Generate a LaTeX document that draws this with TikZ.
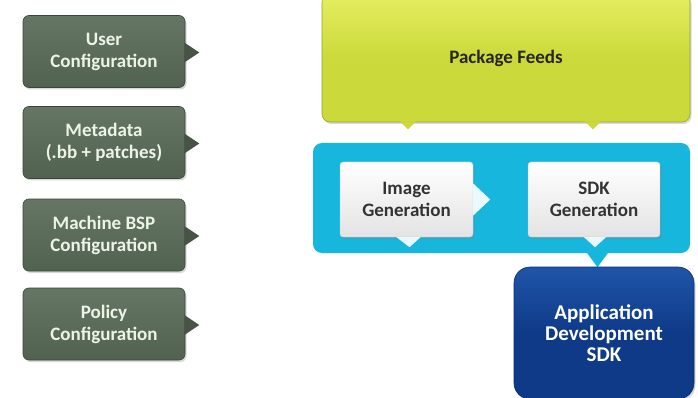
\documentclass[tikz,border=0pt]{standalone}
\usepackage{fontspec}
\setmainfont{Carlito}
\usetikzlibrary{calc,shadows}
\definecolor{boxgreen}{HTML}{526251}
\definecolor{boxgreenlt}{HTML}{667665}
\definecolor{feedyel}{HTML}{CCD93A}
\definecolor{feedyellt}{HTML}{E4EE62}
\definecolor{cyanbg}{HTML}{17B6DD}
\definecolor{sdkblue}{HTML}{0E3A88}
\definecolor{sdkbluelt}{HTML}{1F55A8}
\definecolor{wtxt}{HTML}{EEF3E8}
\tikzset{
  cfgbox/.style={rounded corners=6pt, minimum width=162pt, minimum height=72pt,
    top color=boxgreenlt, bottom color=boxgreen, draw=boxgreen!70!black, line width=0.6pt,
    text=wtxt, font=\fontsize{19}{22}\selectfont\bfseries, align=center, inner sep=1pt,
    drop shadow={shadow xshift=1.5pt, shadow yshift=-2pt, opacity=0.3}},
  genbox/.style={rounded corners=3pt, minimum width=133pt, minimum height=75pt,
    top color=white, bottom color=gray!22, draw=gray!45, line width=0.4pt,
    text=black!80, font=\fontsize{19}{22}\selectfont\bfseries, align=center, inner sep=1pt,
    drop shadow={shadow xshift=1.5pt, shadow yshift=-2pt, opacity=0.3}},
}
\begin{document}
\begin{tikzpicture}[x=1pt,y=-1pt]
\useasboundingbox[fill=white] (0,0) rectangle (698,398);

% Package feeds
\node[rounded corners=8pt, minimum width=368pt, minimum height=128pt,
  top color=feedyellt, bottom color=feedyel, middle color=feedyel, draw=feedyel!75!black, line width=0.6pt,
  font=\fontsize{19}{22}\selectfont\bfseries, text=black!85,
  drop shadow={shadow xshift=1.5pt, shadow yshift=-2pt, opacity=0.3}]
  (feeds) at (506,58) {Package Feeds};
\fill[feedyel] ($(feeds.south)+(-106,-1)$) -- ++(8,8) -- ++(8,-8) -- cycle;
\fill[feedyel] ($(feeds.south)+(79,-1)$) -- ++(8,8) -- ++(8,-8) -- cycle;

% cyan container
\node[rounded corners=9pt, minimum width=377pt, minimum height=110pt, fill=cyanbg]
  (gen) at (501.5,198) {};
\fill[cyanbg] ($(gen.south)+(85,-1)$) -- ++(11,15) -- ++(11,-15) -- cycle;

% generation boxes
\node[genbox] (img) at (406.5,199.5) {Image\\Generation};
\node[genbox, minimum width=132pt] (sdk) at (594,199.5) {SDK\\Generation};
\fill[white!92!cyanbg] ($(img.east)+(0,-16)$) -- ($(img.east)+(17,0)$) -- ($(img.east)+(0,16)$) -- cycle;
\fill[white!90!cyanbg] ($(img.south)+(-10,0)$) -- ($(img.south)+(3,10)$) -- ($(img.south)+(14,0)$) -- cycle;
\fill[white!90!cyanbg] ($(sdk.south)+(-10,0)$) -- ($(sdk.south)+(1,10)$) -- ($(sdk.south)+(12,0)$) -- cycle;

% application SDK
\node[rounded corners=16pt, minimum width=180pt, minimum height=132pt,
  top color=sdkbluelt, bottom color=sdkblue, middle color=sdkblue, draw=sdkblue!80!black, line width=0.6pt,
  text=white, font=\fontsize{21}{21}\selectfont\bfseries, align=center, inner sep=1pt,
  drop shadow={shadow xshift=1.5pt, shadow yshift=-2pt, opacity=0.3}]
  (app) at (604,333) {Application\\Development\\SDK};

% left configuration boxes
\node[cfgbox] (user) at (104,51.5) {User\\Configuration};
\node[cfgbox] (meta) at (104,142.5) {Metadata\\(.bb + patches)};
\node[cfgbox] (bsp) at (104,235) {Machine BSP\\Configuration};
\node[cfgbox] (pol) at (104,324) {Policy\\Configuration};
\foreach \n in {user,meta,bsp,pol}{
  \fill[boxgreen!85!black] ($(\n.east)+(-1,-9)$) -- ($(\n.east)+(14,1)$) -- ($(\n.east)+(-1,11)$) -- cycle;
}
\end{tikzpicture}
\end{document}
